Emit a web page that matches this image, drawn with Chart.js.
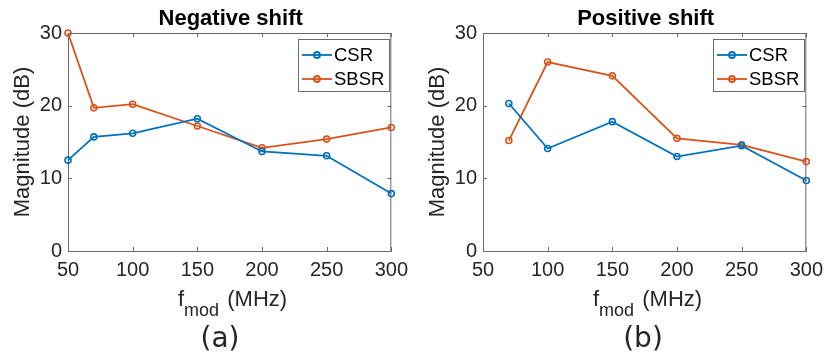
<!DOCTYPE html>
<html>
<head>
<meta charset="utf-8">
<script src="https://cdn.jsdelivr.net/npm/chart.js@4/dist/chart.umd.min.js"></script>
<style>
  html, body { margin: 0; padding: 0; background: #fff; }
  #wrap { position: relative; width: 830px; height: 358px; }
  canvas { position: absolute; top: 0; }
</style>
</head>
<body>
<div id="wrap">
  <canvas id="neg" width="415" height="358" style="left:0"></canvas>
  <canvas id="pos" width="415" height="358" style="left:415px"></canvas>
</div>
<script>
// Modulation frequencies (MHz) and measured suppression ratios (dB)
const freqNeg = [50, 70, 100, 150, 200, 250, 300];
const csrNeg  = [12.5, 15.7, 16.2, 18.2, 13.7, 13.1, 7.9];
const sbsrNeg = [30.0, 19.7, 20.2, 17.2, 14.2, 15.4, 17.0];

const freqPos = [70, 100, 150, 200, 250, 300];
const csrPos  = [20.3, 14.1, 17.8, 13.0, 14.5, 9.7];
const sbsrPos = [15.2, 26.0, 24.1, 15.5, 14.6, 12.3];

const xTicks = [50, 100, 150, 200, 250, 300];
const yTicks = [0, 10, 20, 30];
const seriesNames = ['CSR', 'SBSR'];
const seriesColors = ['#0072BD', '#D95319'];

const FONT = '"Liberation Sans", Arial, Helvetica, sans-serif';
const AXIS_COLOR = '#6a6a6a';
const TEXT_COLOR = '#262626';

function pairs(xs, ys) { return xs.map((x, i) => ({ x: x, y: ys[i] })); }

// Box around the axes with inward tick marks on all four sides
const framePlugin = {
  id: 'frame',
  afterDraw(chart) {
    const { ctx, chartArea: a, scales } = chart;
    ctx.save();
    ctx.strokeStyle = AXIS_COLOR;
    ctx.lineWidth = 1;
    ctx.beginPath();
    ctx.moveTo(a.left, a.top + 0.5); ctx.lineTo(a.right, a.top + 0.5);
    ctx.moveTo(a.right - 0.5, a.top); ctx.lineTo(a.right - 0.5, a.bottom);
    const tl = 4;
    xTicks.forEach(v => {
      const px = Math.round(scales.x.getPixelForValue(v)) + 0.5;
      ctx.moveTo(px, a.bottom); ctx.lineTo(px, a.bottom - tl);
      ctx.moveTo(px, a.top); ctx.lineTo(px, a.top + tl);
    });
    yTicks.forEach(v => {
      const py = Math.round(scales.y.getPixelForValue(v)) + 0.5;
      ctx.moveTo(a.left, py); ctx.lineTo(a.left + tl, py);
      ctx.moveTo(a.right, py); ctx.lineTo(a.right - tl, py);
    });
    ctx.stroke();
    ctx.restore();
  }
};

// Boxed legend in the upper-right corner of the axes
const boxLegendPlugin = {
  id: 'boxLegend',
  afterDraw(chart) {
    const { ctx, chartArea: a } = chart;
    const x0 = a.left + 230, y0 = 39, w = 91, h = 52;
    ctx.save();
    ctx.fillStyle = '#fff';
    ctx.fillRect(x0, y0, w, h);
    ctx.strokeStyle = AXIS_COLOR;
    ctx.lineWidth = 1;
    ctx.strokeRect(x0 + 0.5, y0 + 0.5, w, h);
    chart.data.datasets.forEach((ds, i) => {
      const cy = y0 + 16 + i * 24;
      ctx.strokeStyle = ds.borderColor;
      ctx.lineWidth = 1.8;
      ctx.beginPath();
      ctx.moveTo(x0 + 4, cy); ctx.lineTo(x0 + 34, cy);
      ctx.stroke();
      ctx.beginPath();
      ctx.arc(x0 + 19, cy, 3, 0, Math.PI * 2);
      ctx.stroke();
      ctx.fillStyle = '#000';
      ctx.font = '18.5px ' + FONT;
      ctx.textAlign = 'left';
      ctx.textBaseline = 'middle';
      ctx.fillText(ds.label, x0 + 36, cy + 1);
    });
    ctx.restore();
  }
};

// Title, axis labels (with subscript) and panel caption
const textPlugin = {
  id: 'panelText',
  afterDraw(chart) {
    const { ctx, chartArea: a } = chart;
    const o = chart.options.plugins.panelText;
    const cx = (a.left + a.right) / 2;
    ctx.save();
    ctx.fillStyle = '#000';
    ctx.font = 'bold 22px ' + FONT;
    ctx.textAlign = 'center';
    ctx.textBaseline = 'alphabetic';
    ctx.fillText(o.title, cx + 1, 25);

    ctx.fillStyle = TEXT_COLOR;
    ctx.font = '22px ' + FONT;
    ctx.save();
    ctx.translate(23, (a.top + a.bottom) / 2);
    ctx.rotate(-Math.PI / 2);
    ctx.textAlign = 'center';
    ctx.textBaseline = 'middle';
    ctx.fillText('Magnitude (dB)', 0, 0);
    ctx.restore();

    // x label: f_mod (MHz)
    ctx.textAlign = 'left';
    ctx.textBaseline = 'alphabetic';
    let x = 178;
    ctx.font = '22px ' + FONT;
    ctx.fillText('f', x, 306);
    x += ctx.measureText('f').width;
    ctx.font = '18px ' + FONT;
    ctx.fillText('mod', x, 316);
    x += ctx.measureText('mod').width;
    ctx.font = '22px ' + FONT;
    ctx.fillText(' (MHz)', x + 2, 306);

    ctx.font = '28px "DejaVu Sans", ' + FONT;
    ctx.textAlign = 'center';
    ctx.fillText(o.caption, o.captionX, 347);
    ctx.restore();
  }
};

function makeChart(id, xs, csr, sbsr, title, caption, captionX) {
  return new Chart(document.getElementById(id), {
    type: 'line',
    data: {
      datasets: [csr, sbsr].map((ys, i) => ({
        label: seriesNames[i],
        data: pairs(xs, ys),
        borderColor: seriesColors[i],
        backgroundColor: 'rgba(0,0,0,0)',
        borderWidth: 1.8,
        pointRadius: 3,
        pointHoverRadius: 3,
        pointBorderWidth: 1.6,
        pointBackgroundColor: 'rgba(0,0,0,0)',
        pointBorderColor: seriesColors[i],
        tension: 0,
        clip: false
      }))
    },
    options: {
      responsive: false,
      animation: false,
      devicePixelRatio: 1,
      events: [],
      layout: { padding: { left: 0, right: 18, top: 33, bottom: 0 } },
      plugins: {
        legend: { display: false },
        tooltip: { enabled: false },
        title: { display: false },
        panelText: { title: title, caption: caption, captionX: captionX }
      },
      scales: {
        x: {
          type: 'linear',
          min: 50, max: 300,
          afterBuildTicks(s) { s.ticks = xTicks.map(v => ({ value: v })); },
          afterFit(s) { s.height = 107; },
          ticks: { padding: 7, color: TEXT_COLOR, font: { family: FONT, size: 20 }, maxRotation: 0 },
          grid: { display: false, drawTicks: false },
          border: { display: true, color: AXIS_COLOR, width: 1 }
        },
        y: {
          min: 0, max: 30,
          afterBuildTicks(s) { s.ticks = yTicks.map(v => ({ value: v })); },
          afterFit(s) { s.width = 68; },
          ticks: { padding: 6, color: TEXT_COLOR, font: { family: FONT, size: 20 } },
          grid: { display: false, drawTicks: false },
          border: { display: true, color: AXIS_COLOR, width: 1 }
        }
      }
    },
    plugins: [framePlugin, boxLegendPlugin, textPlugin]
  });
}

makeChart('neg', freqNeg, csrNeg, sbsrNeg, 'Negative shift', '(a)', 220);
makeChart('pos', freqPos, csrPos, sbsrPos, 'Positive shift', '(b)', 228);
</script>
</body>
</html>
